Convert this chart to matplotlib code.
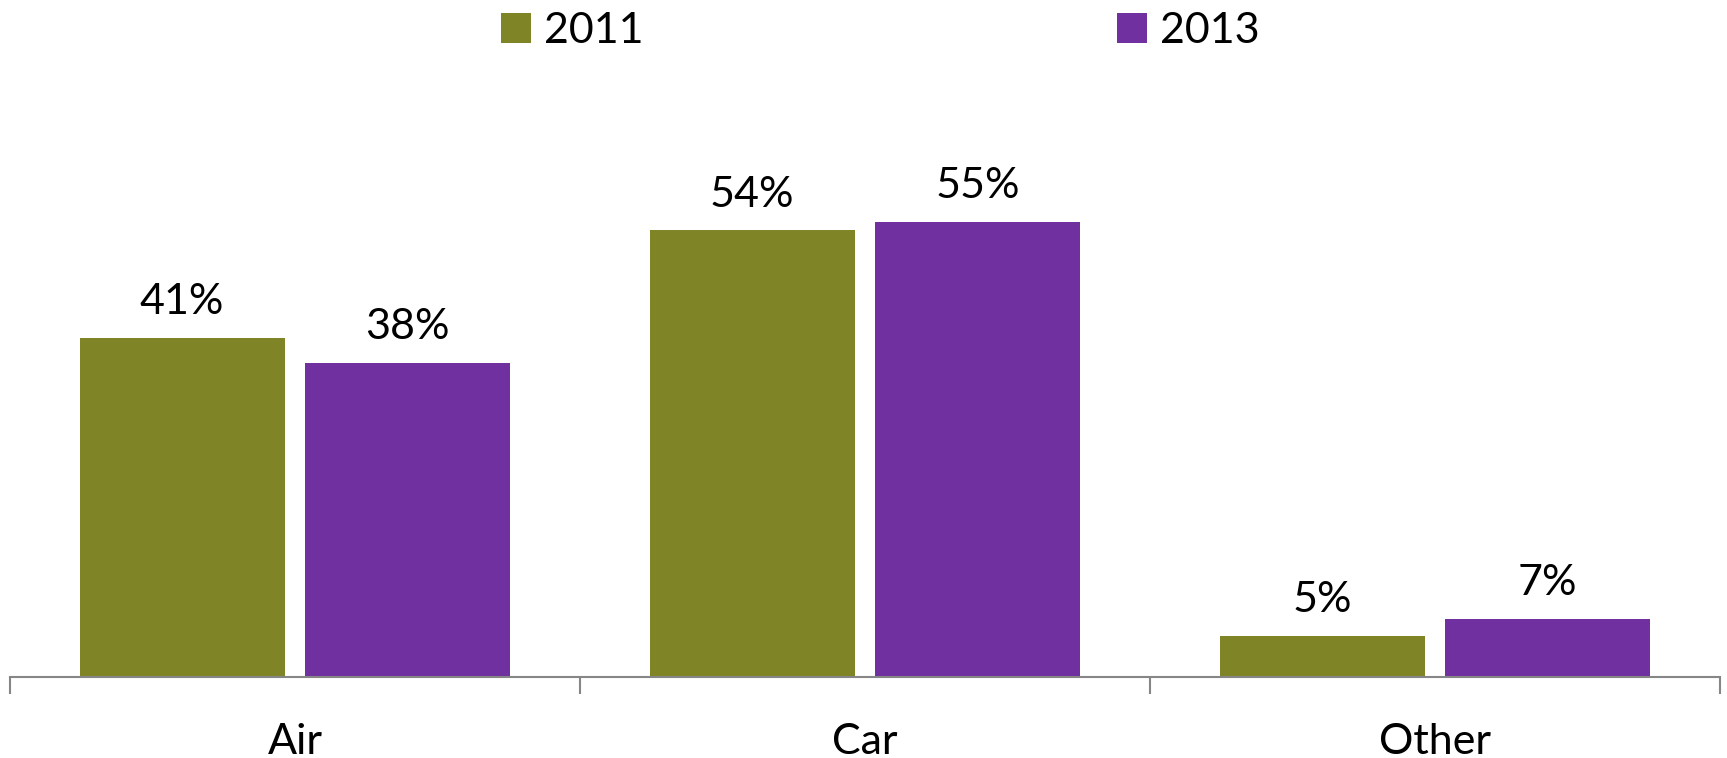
import numpy as np
import matplotlib
matplotlib.use("Agg")
import matplotlib.pyplot as plt

categories = ["Air", "Car", "Other"]
years = ["2011", "2013"]
values_2011 = [41, 54, 5]
values_2013 = [38, 55, 7]
colors = ["#7F8427", "#7030A0"]

plt.rcParams['font.family'] = ['Lato', 'DejaVu Sans']

fig = plt.figure(figsize=(17.27, 7.58), dpi=100)
ax = fig.add_axes([10 / 1727, 81 / 758, 1710 / 1727, 598 / 758])

x = np.arange(len(categories))
width = 0.36
offset = 0.198
series = [values_2011, values_2013]
for i, (year, vals) in enumerate(zip(years, series)):
    pos = x + (offset if i else -offset)
    bars = ax.bar(pos, vals, width, color=colors[i], label=year)
    for b, v in zip(bars, vals):
        ax.annotate("{}%".format(v), (b.get_x() + b.get_width() / 2, b.get_height()),
                    xytext=(0, 12), textcoords="offset points",
                    ha="center", va="bottom", fontsize=31)

ax.set_xlim(-0.5, len(categories) - 0.5)
ax.set_ylim(0, 72.3)

for s in ["top", "right", "left"]:
    ax.spines[s].set_visible(False)
ax.spines["bottom"].set_color("#868686")
ax.spines["bottom"].set_linewidth(1.5)
ax.set_yticks([])

ax.set_xticks(np.arange(len(categories) + 1) - 0.5)
ax.set_xticklabels([])
ax.tick_params(axis="x", which="major", length=12, width=1.5, color="#868686", direction="out")
ax.set_xticks(x, minor=True)
ax.set_xticklabels(categories, minor=True, fontsize=31)
ax.tick_params(axis="x", which="minor", length=0, pad=33)

fig.legend(loc="upper center", bbox_to_anchor=(880 / 1727, 1.035), ncol=2, frameon=False,
           fontsize=31, handlelength=0.7, handleheight=0.7, handletextpad=0.3,
           columnspacing=11.0)

fig.savefig("out.png", dpi=100)
